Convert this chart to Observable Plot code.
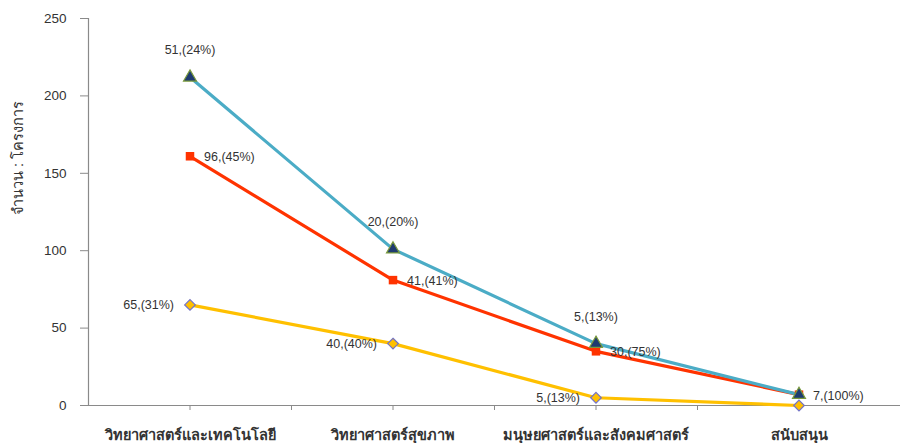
<!DOCTYPE html>
<html>
<head>
<meta charset="utf-8">
<script src="https://cdn.jsdelivr.net/npm/d3@7"></script>
<script src="https://cdn.jsdelivr.net/npm/@observablehq/plot@0.6"></script>
<style>
  html, body { margin: 0; padding: 0; background: #fff; }
  #chart svg { display: block; }
</style>
</head>
<body>
<div id="chart"></div>
<script>
const categories = ["วิทยาศาสตร์และเทคโนโลยี", "วิทยาศาสตร์สุขภาพ", "มนุษยศาสตร์และสังคมศาสตร์", "สนับสนุน"];
const seriesNames = ["ชุดที่ 1", "ชุดที่ 2", "ชุดที่ 3"];
const seriesColors = ["#ffc000", "#ff3300", "#4bacc6"];
const markerFills = ["#ffc000", "#ff3300", "#1f3b70"];
const markerStrokes = ["#7373c8", "none", "#7a9a3c"];
const yellowCounts = [65, 40, 5, 0];
const yellowPct = ["31%", "40%", "13%", "0%"];
const redCounts = [96, 41, 30, 7];
const redPct = ["45%", "41%", "75%", "100%"];
const tealCounts = [51, 20, 5, 0];
const tealPct = ["24%", "20%", "13%", "0%"];
const yTicks = [0, 50, 100, 150, 200, 250];
const yLabel = "จำนวน : โครงการ";

const countsBySeries = [yellowCounts, redCounts, tealCounts];
const pctBySeries = [yellowPct, redPct, tealPct];
const rows = [];
categories.forEach((c, i) => {
  seriesNames.forEach((s, k) => {
    rows.push({category: c, series: s, k, count: countsBySeries[k][i], pct: pctBySeries[k][i]});
  });
});

const stackOpts = (extra) => Plot.stackY2({x: "category", y: "count", z: "series", order: null, ...extra});
const lbl = (name) => (d) => (d.series === name && d.count > 0) ? `${d.count},(${d.pct})` : null;
const font = "Liberation Sans, Arial, sans-serif";

const plot = Plot.plot({
  width: 900,
  height: 443,
  marginTop: 18,
  marginBottom: 38,
  marginLeft: 88,
  marginRight: 0,
  style: {fontFamily: font, background: "#fff", overflow: "visible"},
  x: {type: "band", domain: categories, padding: 0, label: null},
  y: {domain: [0, 250], label: null},
  color: {domain: seriesNames, range: seriesColors},
  symbol: {domain: seriesNames, range: ["diamond2", "square", "triangle"]},
  marks: [
    Plot.ruleY([0], {stroke: "#8a8a8a", strokeWidth: 1.2, insetLeft: -8}),
    Plot.frame({anchor: "left", stroke: "#8a8a8a", strokeWidth: 1.2}),
    Plot.ruleX(categories.slice(0, 3), {x: d => d, y1: 0, y2: 0, insetBottom: -5, dx: 101.5, stroke: "#8a8a8a"}),
    Plot.axisY({ticks: yTicks, tickSize: 8, tickPadding: 14, fontSize: 13.5, stroke: "#8a8a8a", fill: "#333", tickFormat: d => d}),
    Plot.axisX({tickSize: 5, tickPadding: 19, fontSize: 14.5, fontWeight: "bold", stroke: "#8a8a8a", fill: "#333"}),
    Plot.text([yLabel], {frameAnchor: "left", rotate: -90, dx: -70, dy: 3, fontSize: 14.5, fill: "#333", text: d => d}),
    Plot.lineY(rows, stackOpts({stroke: "series", strokeWidth: 3.2})),
    Plot.dot(rows, stackOpts({
      symbol: "series",
      fill: {value: d => markerFills[d.k], scale: null},
      stroke: {value: d => markerStrokes[d.k], scale: null},
      r: 4.8, strokeWidth: 1.2
    })),
    Plot.text(rows, stackOpts({text: lbl(seriesNames[2]), dy: -27, fontSize: 12.5, fill: "#333"})),
    Plot.text(rows, stackOpts({text: lbl(seriesNames[1]), dx: 14, dy: 1, textAnchor: "start", fontSize: 12.5, fill: "#333"})),
    Plot.text(rows, stackOpts({text: lbl(seriesNames[0]), dx: -16, dy: 0, textAnchor: "end", fontSize: 12.5, fill: "#333"}))
  ]
});

document.getElementById("chart").appendChild(plot);
</script>
</body>
</html>
